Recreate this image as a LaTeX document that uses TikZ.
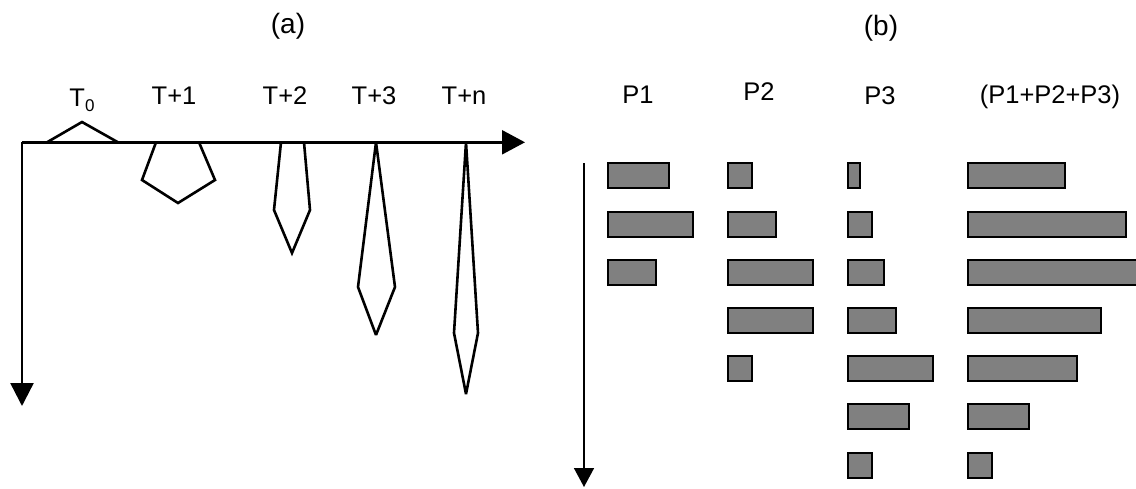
\documentclass[tikz,border=0pt]{standalone}
\usepackage{fontspec}
\setmainfont{Liberation Sans}
\usetikzlibrary{arrows.meta}
\tikzset{
  lbl/.style={anchor=base, inner sep=0pt, font=\fontsize{25.5}{29}\selectfont},
  ttl/.style={anchor=base, inner sep=0pt, font=\fontsize{28}{32}\selectfont},
  axis/.style={line width=2.4pt},
  shp/.style={line width=2.6pt, line join=miter},
  spike/.style={line width=2.6pt, line join=bevel},
  barbox/.style={draw=black, fill={rgb,255:red,128;green,128;blue,128}, line width=2pt},
}
\begin{document}
\begin{tikzpicture}[x=1pt,y=-1pt]
\useasboundingbox (0,0) rectangle (1136,488);
% titles
\node[ttl] (ta) at (288,33) {(a)};
\node[ttl] (tb) at (881,35) {(b)};
% left labels
\node[lbl] (l0) at (82,106) {T\raisebox{-5pt}{\fontsize{17}{17}\selectfont 0}};
\node[lbl] (l1) at (174,104) {T+1};
\node[lbl] (l2) at (285,104) {T+2};
\node[lbl] (l3) at (374,104) {T+3};
\node[lbl] (ln) at (464,104) {T+n};
% axes
\coordinate (O) at (22,142.3);
\coordinate (X) at (525,142.3);
\coordinate (Y) at (22,406);
\draw[axis,-{Triangle[length=23pt,width=24pt]}] (O) -- (X);
\draw[axis,-{Triangle[length=23pt,width=23pt]}] (O) -- (Y);
% shapes
\draw[shp] (47,142.3) -- (82,122) -- (118,142.3);
\draw[shp] (156,142.3) -- (142,180) -- (178,203) -- (215,180) -- (199,142.3);
\draw[shp] (281,142.3) -- (274,210) -- (292,253) -- (310,210) -- (304,142.3);
\draw[spike] (376,142.3) -- (358,287) -- (376,335) -- (395,287) -- cycle;
\draw[spike] (466,142.3) -- (454,333) -- (466,394) -- (478,333) -- cycle;
% right labels
\node[lbl] (p1) at (638,103) {P1};
\node[lbl] (p2) at (759,100) {P2};
\node[lbl] (p3) at (880,104) {P3};
\node[lbl] (ps) at (1050,103) {(P1+P2+P3)};
% right axis
\coordinate (R0) at (584,163);
\coordinate (R1) at (584,487);
\draw[line width=1.6pt,-{Triangle[length=19pt,width=20pt]}] (R0) -- (R1);
% bars: column start, row index, width units
\def\u{12.1}
\foreach \cx/\r/\w in {
  608/0/5, 608/1/7, 608/2/4,
  728/0/2, 728/1/4, 728/2/7, 728/3/7, 728/4/2,
  848/0/1, 848/1/2, 848/2/3, 848/3/4, 848/4/7, 848/5/5, 848/6/2,
  968.2/0/8, 968.2/1/13, 968.2/2/14, 968.2/3/11, 968.2/4/9, 968.2/5/5, 968.2/6/2}{
  \draw[barbox] (\cx,163.3+48.2*\r) rectangle ++(\w*\u,25);
}
\end{tikzpicture}
\end{document}
